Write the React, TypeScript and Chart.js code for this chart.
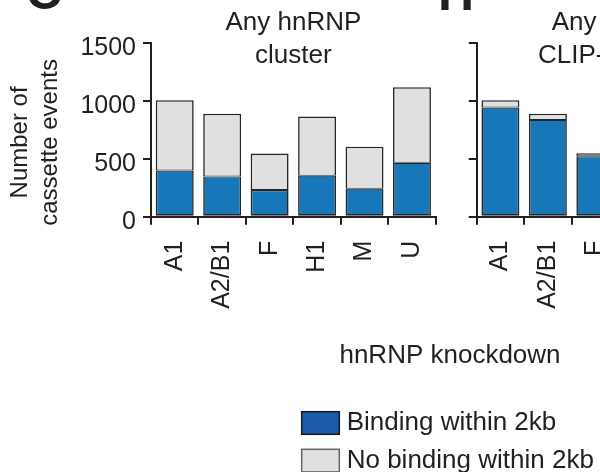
import React, { useEffect, useRef } from "react";
import { Chart, registerables } from "chart.js";

Chart.register(...registerables);

// ---------- data ----------
const knockdowns = ["A1", "A2/B1", "F", "H1", "M", "U"];
const anyClusterBinding = [398, 347, 230, 354, 242, 465];
const anyClusterNoBinding = [608, 543, 315, 512, 362, 653];

const clipKnockdowns = ["A1", "A2/B1", "F"];
const clipBinding = [942, 836, 521];
const clipNoBinding = [64, 54, 27];

const yTicks = [0, 500, 1000, 1500];
const seriesNames = ["Binding within 2kb", "No binding within 2kb"];
const panelTitle1 = ["Any hnRNP", "cluster"];
const panelTitle2 = ["Any hnRNP", "CLIP-seq cluster"];
const yTitle = ["Number of", "cassette events"];
const xTitle = "hnRNP knockdown";
const panelLetters = ["C", "H"];

// ---------- styles ----------
const FONT = '"Liberation Sans", Arial, Helvetica, sans-serif';
const INK = "#231f20";
const BAR_BLUE = "#1777b8";
const LEGEND_BLUE = "#1c5ba8";
const GRAY = "#e0e0e0";
const BAR_EDGE = "#262626";

const W = 600;
const H = 472;
const PLOT_TOP = 43;
const PLOT_BOTTOM = 216.7;
const AXIS1_X = 151;
const AXIS2_X = 476.7;
const STEP = 47.45;
const C2_LEFT = 300;
const C2_W = 420;

function makeScales(yWidth: number, showYLabels: boolean) {
  const grid = {
    display: true,
    drawOnChartArea: false,
    drawTicks: true,
    tickLength: 8,
    color: INK,
    lineWidth: 2,
  };
  const border = { display: true, color: INK, width: 2 };
  return {
    x: {
      stacked: true,
      grid: { ...grid, offset: true },
      border,
      ticks: {
        autoSkip: false,
        maxRotation: 90,
        minRotation: 90,
        padding: 16,
        color: INK,
        font: { family: FONT, size: 25 },
      },
      afterFit: (s: any) => {
        s.height = H - PLOT_BOTTOM;
      },
    },
    y: {
      stacked: true,
      min: 0,
      max: 1500,
      afterBuildTicks: (s: any) => {
        s.ticks = yTicks.map((v) => ({ value: v }));
      },
      grid,
      border,
      ticks: {
        display: showYLabels,
        padding: 7,
        color: INK,
        font: { family: FONT, size: 25, lineHeight: 0.4 },
        callback: (v: any) => ["", String(v)],
      },
      afterFit: (s: any) => {
        s.width = yWidth;
      },
    },
  };
}

function makeDatasets(blue: number[], gray: number[]) {
  const common = {
    borderColor: BAR_EDGE,
    borderSkipped: false as const,
    categoryPercentage: 1,
    barPercentage: 0.8,
  };
  return [
    {
      label: seriesNames[0],
      data: blue,
      backgroundColor: BAR_BLUE,
      borderWidth: { left: 1.6, right: 1.6, bottom: 1.6, top: 1.1 },
      ...common,
    },
    {
      label: seriesNames[1],
      data: gray,
      backgroundColor: GRAY,
      borderWidth: { left: 1.6, right: 1.6, bottom: 1.0, top: 1.6 },
      ...common,
    },
  ];
}

const textPlugin1 = {
  id: "panelTexts1",
  afterDraw(chart: any) {
    const ctx = chart.ctx as CanvasRenderingContext2D;
    const a = chart.chartArea;
    ctx.save();
    ctx.fillStyle = INK;

    // panel letters (cropped at top)
    ctx.font = `bold 50px ${FONT}`;
    ctx.textAlign = "left";
    ctx.textBaseline = "alphabetic";
    ctx.fillText(panelLetters[0], 25.7, 9);
    ctx.fillText(panelLetters[1], 438, 10);

    // panel title
    ctx.font = `26px ${FONT}`;
    ctx.textAlign = "center";
    const cx = (a.left + a.right) / 2;
    ctx.fillText(panelTitle1[0], cx, 30);
    ctx.fillText(panelTitle1[1], cx, 63.3);

    // y-axis title
    ctx.font = `24px ${FONT}`;
    const yc = 142.4;
    [26.7, 57.3].forEach((bx, i) => {
      ctx.save();
      ctx.translate(bx, yc);
      ctx.rotate(-Math.PI / 2);
      ctx.textAlign = "center";
      ctx.fillText(yTitle[i], 0, 0);
      ctx.restore();
    });

    // x-axis title
    ctx.font = `26px ${FONT}`;
    ctx.textAlign = "center";
    ctx.fillText(xTitle, 450, 363.3);

    // legend
    const legendColors = [LEGEND_BLUE, GRAY];
    const legendEdges = ["#1a1a1a", "#666666"];
    const boxX = 301.7;
    const boxW = 37.6;
    const boxH = 22.6;
    const boxYs = [411.7, 449.3];
    ctx.textAlign = "left";
    ctx.textBaseline = "alphabetic";
    chart.data.datasets.forEach((ds: any, i: number) => {
      const y = boxYs[i];
      ctx.fillStyle = legendColors[i];
      ctx.fillRect(boxX, y, boxW, boxH);
      ctx.strokeStyle = legendEdges[i];
      ctx.lineWidth = 1.5;
      ctx.strokeRect(boxX, y, boxW, boxH);
      ctx.fillStyle = INK;
      ctx.font = `26px ${FONT}`;
      ctx.fillText(ds.label, 346.7, y + boxH / 2 + 7);
    });
    ctx.restore();
  },
};

const textPlugin2 = {
  id: "panelTexts2",
  afterDraw(chart: any) {
    const ctx = chart.ctx as CanvasRenderingContext2D;
    ctx.save();
    ctx.fillStyle = INK;
    ctx.font = `26px ${FONT}`;
    ctx.textAlign = "left";
    ctx.textBaseline = "alphabetic";
    ctx.fillText(panelTitle2[0], 551.7 - C2_LEFT, 30);
    ctx.fillText(panelTitle2[1], 538 - C2_LEFT, 63.3);
    ctx.restore();
  },
};

export default function App() {
  const ref1 = useRef<HTMLCanvasElement>(null);
  const ref2 = useRef<HTMLCanvasElement>(null);

  useEffect(() => {
    const c1 = new Chart(ref1.current!, {
      type: "bar",
      data: {
        labels: knockdowns,
        datasets: makeDatasets(anyClusterBinding, anyClusterNoBinding) as any,
      },
      options: {
        animation: false,
        responsive: false,
        maintainAspectRatio: false,
        devicePixelRatio: 1,
        layout: {
          padding: {
            top: PLOT_TOP,
            left: 0,
            bottom: 0,
            right: W - (AXIS1_X + STEP * knockdowns.length),
          },
        },
        plugins: {
          legend: { display: false },
          title: { display: false },
          tooltip: { enabled: false },
        },
        scales: makeScales(AXIS1_X, true) as any,
      },
      plugins: [textPlugin1],
    });

    const c2 = new Chart(ref2.current!, {
      type: "bar",
      data: {
        labels: clipKnockdowns,
        datasets: makeDatasets(clipBinding, clipNoBinding) as any,
      },
      options: {
        animation: false,
        responsive: false,
        maintainAspectRatio: false,
        devicePixelRatio: 1,
        layout: {
          padding: {
            top: PLOT_TOP,
            left: 0,
            bottom: 0,
            right: C2_W - (AXIS2_X - C2_LEFT + STEP * clipKnockdowns.length),
          },
        },
        plugins: {
          legend: { display: false },
          title: { display: false },
          tooltip: { enabled: false },
        },
        scales: makeScales(AXIS2_X - C2_LEFT, false) as any,
      },
      plugins: [textPlugin2],
    });

    return () => {
      c1.destroy();
      c2.destroy();
    };
  }, []);

  return (
    <div
      style={{
        position: "fixed",
        left: 0,
        top: 0,
        width: W,
        height: H,
        overflow: "hidden",
        background: "#ffffff",
      }}
    >
      <canvas
        ref={ref1}
        width={W}
        height={H}
        style={{ position: "absolute", left: 0, top: 0, width: W, height: H }}
      />
      <canvas
        ref={ref2}
        width={C2_W}
        height={H}
        style={{ position: "absolute", left: C2_LEFT, top: 0, width: C2_W, height: H }}
      />
    </div>
  );
}
